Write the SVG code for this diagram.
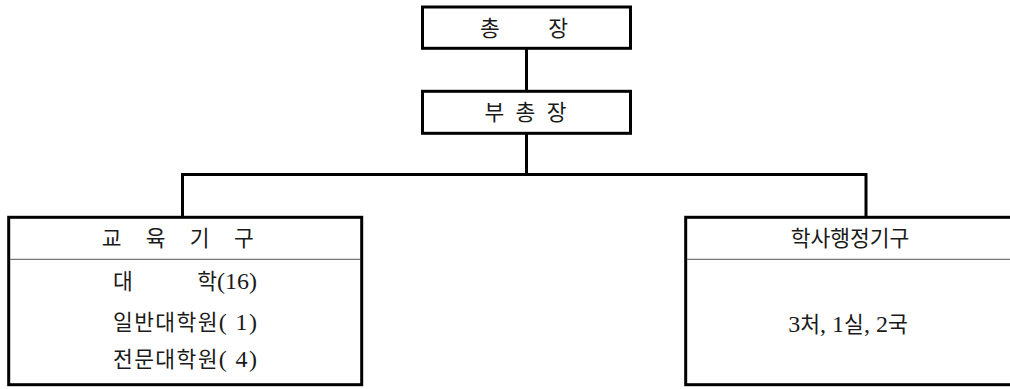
<svg xmlns="http://www.w3.org/2000/svg" width="1010" height="389" viewBox="0 0 1010 389">
  <style>
    .box { fill: #ffffff; stroke: #000000; stroke-width: 3; }
    .rule { stroke: #777777; stroke-width: 1.2; }
    .link { fill: none; stroke: #000000; stroke-width: 3; }
    text { font-family: "Liberation Serif", "Noto Sans CJK KR", serif; font-size: 21.5px; fill: #1a1a1a; }
    .n { font-size: 24px; }
    .c { text-anchor: middle; }
  </style>

  <!-- connectors -->
  <g id="connectors">
    <line class="link" x1="526.5" y1="48" x2="526.5" y2="92"/>
    <line class="link" x1="526.5" y1="133" x2="526.5" y2="175"/>
    <polyline class="link" points="182.5,217 182.5,174.5 866,174.5 866,217"/>
  </g>

  <!-- president -->
  <g id="president">
    <rect class="box" x="422.5" y="7" width="208" height="41.3"/>
    <text class="c" x="524" y="36" xml:space="preserve">총         장</text>
  </g>

  <!-- vice president -->
  <g id="vice-president">
    <rect class="box" x="422.5" y="91.3" width="208" height="42"/>
    <text class="c" x="527" y="120" letter-spacing="3" xml:space="preserve">부 총 장</text>
  </g>

  <!-- education units -->
  <g id="education">
    <rect class="box" x="8.7" y="217.3" width="353" height="167.4"/>
    <line class="rule" x1="10" y1="259.3" x2="360" y2="259.3"/>
    <text class="c" x="180" y="246" letter-spacing="4.5" xml:space="preserve">교  육  기  구</text>
    <text x="113" y="289" textLength="144" lengthAdjust="spacing" xml:space="preserve">대            학<tspan class="n">(16)</tspan></text>
    <text x="113" y="330" textLength="144" lengthAdjust="spacing" xml:space="preserve">일반대학원<tspan class="n">( 1)</tspan></text>
    <text x="113" y="367" textLength="144" lengthAdjust="spacing" xml:space="preserve">전문대학원<tspan class="n">( 4)</tspan></text>
  </g>

  <!-- academic administration units -->
  <g id="administration">
    <rect class="box" x="685.7" y="217.3" width="360" height="167.4"/>
    <line class="rule" x1="687" y1="259.3" x2="1010" y2="259.3"/>
    <text class="c" x="850" y="246">학사행정기구</text>
    <text class="c" x="848" y="332" xml:space="preserve"><tspan class="n">3</tspan>처<tspan class="n">, 1</tspan>실<tspan class="n">, 2</tspan>국</text>
  </g>
</svg>
